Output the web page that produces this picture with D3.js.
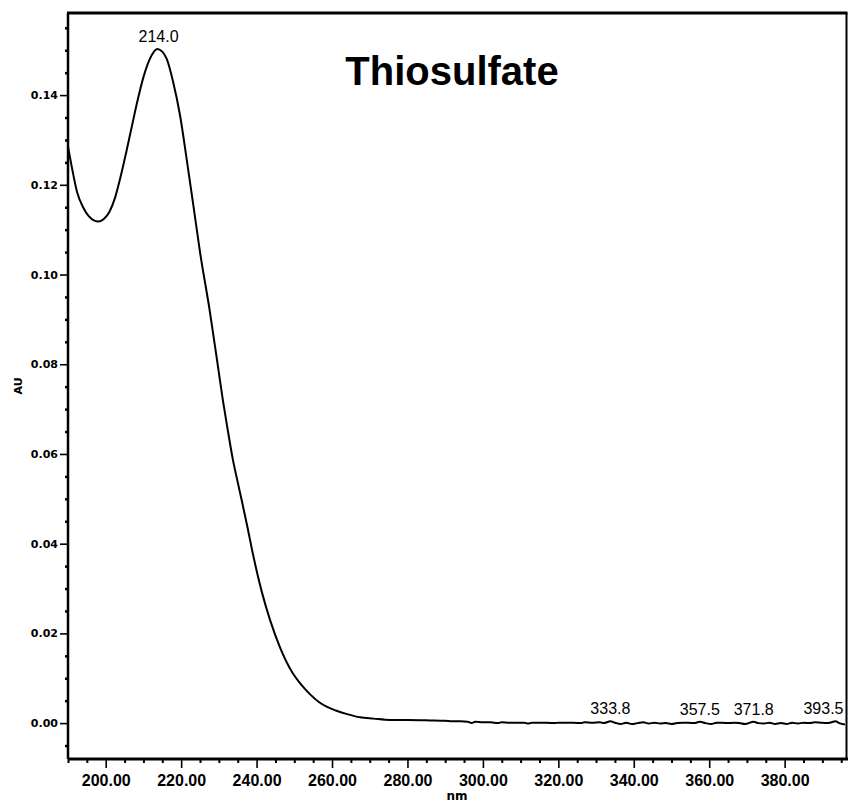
<!DOCTYPE html>
<html><head><meta charset="utf-8">
<script src="https://cdn.jsdelivr.net/npm/d3@7"></script>
<style>
body{margin:0;background:#fff;}
svg{display:block;}
</style></head><body>
<svg id="chart" width="848" height="803"></svg>
<script>
// ---- data ----
const wavelength = [190.0,191.0,192.4,194.0,195.5,197.0,198.0,199.5,201.0,202.5,204.0,205.5,207.0,208.5,210.0,211.5,212.8,213.6,215.0,216.2,217.8,219.7,221.5,223.1,225.0,227.6,229.5,231.1,232.4,233.7,235.0,236.1,237.5,239.0,241.4,243.6,246.2,249.6,252.0,254.2,256.5,258.7,261.0,264.0,267.4,271.0,275.4,280.0,286.0,290.0,
292,294,296,297,298,300,302,304,305,307,309,311,312,313,315,317,319,320,322,324,326,327,329,331,332,333.8,335,336.5,338,339.5,341,342.5,344,345.5,347,348.5,350,351.5,353,354.5,356,357.5,359,360.5,362,363.5,365,366.5,368,369.5,371.8,373,374.5,376,377.5,379,380.5,382,383.5,385,386.5,388,389.5,391,392,393.5,394.5,396];
const absorbance = [0.1285,0.1240,0.1184,0.1150,0.1130,0.1120,0.1118,0.1124,0.1140,0.1172,0.1220,0.1275,0.1333,0.1390,0.1440,0.1477,0.1497,0.1503,0.1497,0.1480,0.1432,0.1355,0.1255,0.1162,0.1050,0.0918,0.0810,0.0718,0.0651,0.0588,0.0537,0.0495,0.0440,0.0378,0.0292,0.0229,0.0169,0.0111,0.0084,0.0064,0.0047,0.0036,0.0028,0.0020,0.0013,0.0010,0.0007,0.0007,0.0006,0.0005,
0.0004,0.0004,0.0003,0.0000,0.0003,0.0002,0.0002,0.0000,0.0002,0.0001,0.0001,0.0001,-0.0001,0.0001,0.0001,0.0001,0.0000,0.0001,0.0001,0.0001,0.0000,0.0002,0.0001,0.0002,0.0000,0.0004,0.0001,-0.0002,0.0001,-0.0002,0.0000,0.0002,-0.0001,0.0001,-0.0001,0.0000,-0.0002,0.0000,0.0001,0.0001,0.0000,0.0003,0.0000,-0.0002,0.0001,0.0001,0.0000,0.0001,0.0000,-0.0002,0.0003,0.0000,-0.0001,0.0001,-0.0002,0.0000,-0.0002,0.0001,-0.0001,0.0001,0.0000,0.0002,0.0001,0.0000,0.0001,0.0004,0.0000,-0.0003];
const peakWavelengths = [214.0, 333.8, 357.5, 371.8, 393.5];
const peakAbsorbance = [0.1503, 0.0004, 0.0003, 0.0003, 0.0004];
const xMajorTicks = [200,220,240,260,280,300,320,340,360,380];
const yMajorTicks = [0.00,0.02,0.04,0.06,0.08,0.10,0.12,0.14];
const title = "Thiosulfate";
const xLabel = "nm";
const yLabel = "AU";

// ---- layout ----
const svg = d3.select("#chart");
const L = 68, T = 13, R = 846.5, B = 759;
const x = d3.scaleLinear().domain([190, 396.4]).range([L, R]);
const y = d3.scaleLinear().domain([-0.008, 0.1583]).range([B, T]);

const xMinor = d3.range(190, 397, 5).filter(v => v % 20 !== 0);
const yMinor = d3.range(-0.005, 0.1581, 0.005).map(v => +v.toFixed(3)).filter(v => Math.abs(Math.round(v/0.02)*0.02 - v) > 1e-6);

// clip
svg.append("defs").append("clipPath").attr("id","plotclip")
  .append("rect").attr("x", L).attr("y", T).attr("width", R - L).attr("height", B - T);

// minor ticks
const gxm = svg.append("g").attr("transform", `translate(0,${B})`)
  .call(d3.axisBottom(x).tickValues(xMinor).tickSize(4).tickFormat(""));
gxm.select(".domain").remove();
gxm.selectAll("line").attr("stroke","#000").attr("stroke-width",2);
const gym = svg.append("g").attr("transform", `translate(${L},0)`)
  .call(d3.axisLeft(y).tickValues(yMinor).tickSize(3).tickFormat(""));
gym.select(".domain").remove();
gym.selectAll("line").attr("stroke","#000").attr("stroke-width",2.5);

// major axes
const gx = svg.append("g").attr("transform", `translate(0,${B})`)
  .call(d3.axisBottom(x).tickValues(xMajorTicks).tickSize(9).tickPadding(7).tickFormat(d3.format(".2f")));
gx.select(".domain").attr("stroke","#000").attr("stroke-width",3).attr("d", `M${L},0H${R+1.5}`);
gx.selectAll("line").attr("stroke","#000").attr("stroke-width",1.6);
gx.selectAll("text").attr("fill","#000")
  .style("font-family","'Liberation Sans Narrow','Arial Narrow','Liberation Sans',sans-serif")
  .style("font-weight","bold").style("font-size","16px");

const gy = svg.append("g").attr("transform", `translate(${L},0)`)
  .call(d3.axisLeft(y).tickValues(yMajorTicks).tickSize(8).tickPadding(2).tickFormat(d3.format(".2f")));
gy.select(".domain").attr("stroke","#000").attr("stroke-width",2.5).attr("d", `M0,${T}V${B}`);
gy.selectAll("line").attr("stroke","#000").attr("stroke-width",1.6);
gy.selectAll("text").attr("fill","#000")
  .style("font-family","'DejaVu Sans',sans-serif")
  .style("font-weight","bold").style("font-size","11px");

// frame top and right
svg.append("line").attr("x1", L-1).attr("x2", R+1).attr("y1", T).attr("y2", T)
  .attr("stroke","#000").attr("stroke-width",3);
svg.append("line").attr("x1", R).attr("x2", R).attr("y1", T).attr("y2", B)
  .attr("stroke","#000").attr("stroke-width",2);

// curve
const line = d3.line().x((d,i) => x(wavelength[i])).y((d,i) => y(absorbance[i])).curve(d3.curveMonotoneX);
svg.append("path").datum(absorbance).attr("clip-path","url(#plotclip)")
  .attr("d", line).attr("fill","none").attr("stroke","#000").attr("stroke-width",2);

// peak labels
svg.append("g")
  .selectAll("text").data(peakWavelengths).join("text")
  .attr("x", d => Math.min(x(d), R - 23)).attr("y", (d,i) => y(peakAbsorbance[i]) - 7)
  .attr("text-anchor","middle")
  .style("font-family","'Liberation Sans',Arial,sans-serif").style("font-size","16px")
  .text(d => d.toFixed(1));

// title
svg.append("text").attr("x", 452).attr("y", 85).attr("text-anchor","middle")
  .style("font-family","'Liberation Sans',Arial,sans-serif").style("font-weight","bold").style("font-size","40px")
  .text(title);

// axis labels
svg.append("text").attr("x", 457).attr("y", 800).attr("text-anchor","middle")
  .style("font-family","'DejaVu Sans',sans-serif").style("font-weight","bold").style("font-size","12px")
  .text(xLabel);
svg.append("text").attr("transform","translate(22,386) rotate(-90)").attr("text-anchor","middle")
  .style("font-family","'DejaVu Sans',sans-serif").style("font-weight","bold").style("font-size","11px")
  .text(yLabel);
</script>
</body></html>
